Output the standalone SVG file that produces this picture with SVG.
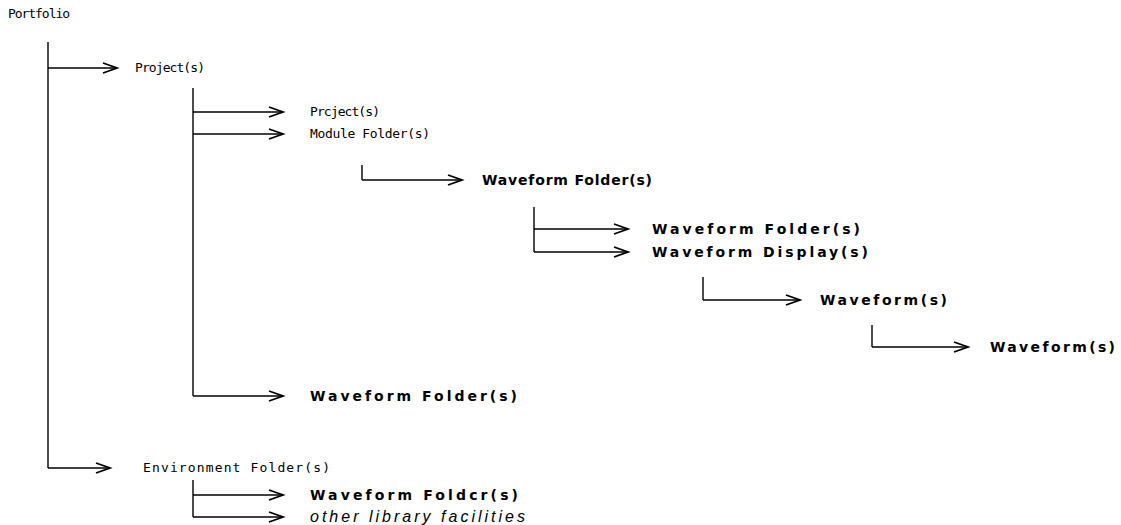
<svg xmlns="http://www.w3.org/2000/svg" width="1121" height="525" viewBox="0 0 1121 525">
<defs>
<marker id="ah" markerUnits="userSpaceOnUse" markerWidth="16" markerHeight="12" refX="14" refY="6" orient="auto" overflow="visible">
<path d="M0,1 L14,6 L0,11" fill="none" stroke="#000" stroke-width="1.8"/>
</marker>
<style>
.ln{stroke:#000;stroke-width:1.4;fill:none}
.ar{stroke:#000;stroke-width:1.4;fill:none;marker-end:url(#ah)}
.rg{font-family:"DejaVu Sans Mono","Liberation Mono",monospace;font-size:13px;fill:#000}
.bd{font-family:"DejaVu Sans","Liberation Sans",sans-serif;font-size:14px;font-weight:bold;fill:#000}
.it{font-family:"Liberation Sans",Arial,sans-serif;font-size:16px;font-style:italic;fill:#000}
</style>
</defs>
<rect width="1121" height="525" fill="#fff"/>
<g id="connectors">
<path class="ln" d="M48,42 V468"/>
<path class="ar" d="M48,68 H117"/>
<path class="ln" d="M193,88 V396"/>
<path class="ar" d="M193,112 H283"/>
<path class="ar" d="M193,134 H283"/>
<path class="ar" d="M193,396 H283"/>
<path class="ln" d="M362,165 V180"/>
<path class="ar" d="M362,180 H462"/>
<path class="ln" d="M534,207 V252"/>
<path class="ar" d="M534,229 H628"/>
<path class="ar" d="M534,252 H628"/>
<path class="ln" d="M703,277 V300"/>
<path class="ar" d="M703,300 H800"/>
<path class="ln" d="M872,325 V347"/>
<path class="ar" d="M872,347 H968"/>
<path class="ar" d="M48,468 H110"/>
<path class="ln" d="M193,480 V517"/>
<path class="ar" d="M193,495 H283"/>
<path class="ar" d="M193,517 H283"/>
</g>
<g id="portfolio"><text class="rg" x="8" y="18" textLength="62" lengthAdjust="spacing">Portfolio</text></g>
<g id="project1"><text class="rg" x="135" y="72" textLength="70" lengthAdjust="spacing">Project(s)</text></g>
<g id="project2"><text class="rg" x="310" y="116" textLength="70" lengthAdjust="spacing">Prcject(s)</text></g>
<g id="module-folder"><text class="rg" x="310" y="138" textLength="120" lengthAdjust="spacing">Module Folder(s)</text></g>
<g id="waveform-folder1"><text class="bd" x="482" y="185" textLength="170" lengthAdjust="spacing">Waveform Folder(s)</text></g>
<g id="waveform-folder2"><text class="bd" x="652" y="234" textLength="208" lengthAdjust="spacing">Waveform Folder(s)</text></g>
<g id="waveform-display"><text class="bd" x="652" y="257" textLength="216" lengthAdjust="spacing">Waveform Display(s)</text></g>
<g id="waveform1"><text class="bd" x="820" y="305" textLength="127" lengthAdjust="spacing">Waveform(s)</text></g>
<g id="waveform2"><text class="bd" x="990" y="352" textLength="125" lengthAdjust="spacing">Waveform(s)</text></g>
<g id="waveform-folder3"><text class="bd" x="310" y="401" textLength="207" lengthAdjust="spacing">Waveform Folder(s)</text></g>
<g id="environment-folder"><text class="rg" x="143" y="472" textLength="187" lengthAdjust="spacing">Environment Folder(s)</text></g>
<g id="waveform-folder4"><text class="bd" x="310" y="500" textLength="208" lengthAdjust="spacing">Waveform Foldcr(s)</text></g>
<g id="other-library"><text class="it" x="310" y="522" textLength="215" lengthAdjust="spacing">other library facilities</text></g>
</svg>
